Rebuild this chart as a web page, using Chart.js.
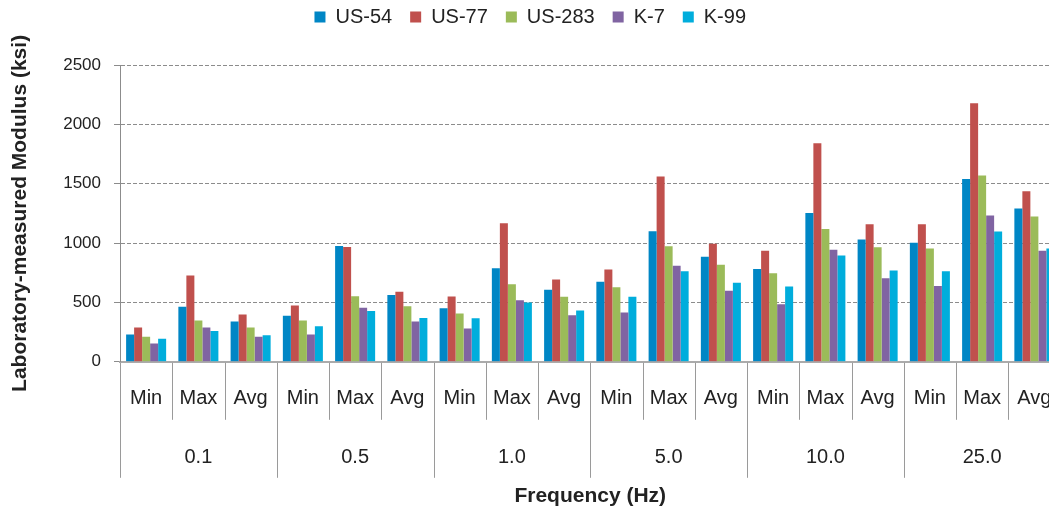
<!DOCTYPE html>
<html>
<head>
<meta charset="utf-8">
<script src="https://cdn.jsdelivr.net/npm/chart.js@4"></script>
<style>
  html, body { margin: 0; padding: 0; background: #fff; overflow: hidden; }
  #wrap { width: 1062px; height: 514px; }
</style>
</head>
<body>
<div id="wrap"><canvas id="c" width="1062" height="514"></canvas></div>
<script>
// Test statistics per loading frequency
const stats = ['Min', 'Max', 'Avg'];
const frequencies = ['0.1', '0.5', '1.0', '5.0', '10.0', '25.0'];
const categories = frequencies.flatMap(f => stats.map(s => s));

// Laboratory-measured modulus (ksi), ordered Min/Max/Avg within each frequency
const us54  = [231, 463, 339,  387, 975, 562,  452, 789, 607,  675, 1100, 885,  781, 1253, 1031,  1003, 1539, 1292];
const us77  = [288, 726, 398,  475, 966, 590,  550, 1167, 694, 778, 1560, 995,  935, 1840, 1158,  1158, 2177, 1436];
const us283 = [212, 347, 288,  347, 553, 467,  407, 654, 548,  627, 973, 818,   745, 1118, 964,   955, 1570, 1224];
const k7    = [155, 288, 212,  231, 455, 340,  280, 519, 393,  416, 810, 599,   484, 944, 703,    638, 1233, 935];
const k99   = [195, 259, 223,  299, 427, 368,  367, 500, 433,  548, 762, 666,   635, 896, 770,    762, 1098, 955];

const yTicks = [0, 500, 1000, 1500, 2000, 2500];

Chart.defaults.font.family = "'Liberation Sans', Arial, Helvetica, sans-serif";
Chart.defaults.color = '#222';

// Two-level category labels (statistic / frequency) with separator lines
const groupedAxisLabels = {
  id: 'groupedAxisLabels',
  afterDraw(chart) {
    const x = chart.scales.x;
    const ctx = chart.ctx;
    const base = chart.chartArea.bottom;
    const n = categories.length;
    const step = x.width / n;
    ctx.save();
    ctx.strokeStyle = '#9a9a9a';
    ctx.lineWidth = 1;
    for (let i = 0; i <= n; i++) {
      const px = Math.round((i < n ? x.getPixelForValue(i) - step / 2 : x.getPixelForValue(n - 1) + step / 2)) + 0.5;
      const major = i % stats.length === 0;
      ctx.beginPath();
      ctx.moveTo(px, base + 1);
      ctx.lineTo(px, base + (major ? 116 : 58));
      ctx.stroke();
    }
    ctx.fillStyle = '#222';
    ctx.textAlign = 'center';
    ctx.textBaseline = 'middle';
    ctx.font = "20px 'Liberation Sans', Arial, sans-serif";
    categories.forEach((lab, i) => {
      ctx.fillText(lab, x.getPixelForValue(i), base + 37);
    });
    frequencies.forEach((f, g) => {
      ctx.fillText(f, x.getPixelForValue(g * stats.length + 1), base + 96);
    });
    ctx.restore();
  }
};

// Keeps the legend row close to the top edge, above the padded plot
const legendLift = {
  id: 'legendLift',
  afterLayout(chart) {
    const lg = chart.legend;
    if (lg) { lg.top -= 28; lg.bottom -= 28; }
  }
};

const colors = ['#0086C5', '#C0504D', '#9BBB59', '#8064A2', '#00ADDC'];
const seriesNames = ['US-54', 'US-77', 'US-283', 'K-7', 'K-99'];
const seriesData = [us54, us77, us283, k7, k99];

new Chart(document.getElementById('c'), {
  type: 'bar',
  data: {
    labels: categories,
    datasets: seriesNames.map((name, i) => ({
      label: name,
      data: seriesData[i],
      backgroundColor: colors[i],
      borderWidth: 0,
      categoryPercentage: 0.766,
      barPercentage: 1.0
    }))
  },
  options: {
    responsive: false,
    animation: false,
    layout: { padding: { left: 0, right: 1.5, top: 17, bottom: 0 } },
    plugins: {
      tooltip: { enabled: false },
      legend: {
        position: 'top',
        labels: {
          font: { size: 20 },
          color: '#222',
          boxWidth: 11,
          boxHeight: 11,
          padding: 18
        }
      }
    },
    scales: {
      x: {
        grid: { display: false, drawTicks: false },
        ticks: { display: false },
        border: { display: true, color: '#ababab', width: 2 },
        title: {
          display: true,
          text: 'Frequency (Hz)',
          font: { size: 21, weight: 'bold' },
          color: '#222',
          padding: { top: 122, bottom: 5 }
        }
      },
      y: {
        min: 0,
        max: 2500,
        afterBuildTicks(scale) { scale.ticks = yTicks.map(v => ({ value: v })); },
        afterFit(scale) { scale.width = 120; },
        ticks: { font: { size: 17 }, color: '#222', padding: 13, callback: v => String(v) },
        grid: {
          color: c => (c.tick && c.tick.value === 0) ? 'rgba(0,0,0,0)' : '#8c8c8c',
          lineWidth: 1,
          tickLength: 6,
          tickColor: '#8c8c8c',
          tickBorderDash: []
        },
        border: { display: true, color: '#8c8c8c', width: 1, dash: [4, 2] },
        title: {
          display: true,
          text: 'Laboratory-measured Modulus (ksi)',
          font: { size: 21, weight: 'bold' },
          color: '#222',
          padding: { top: 8, bottom: 0 }
        }
      }
    }
  },
  plugins: [groupedAxisLabels, legendLift]
});
</script>
</body>
</html>
